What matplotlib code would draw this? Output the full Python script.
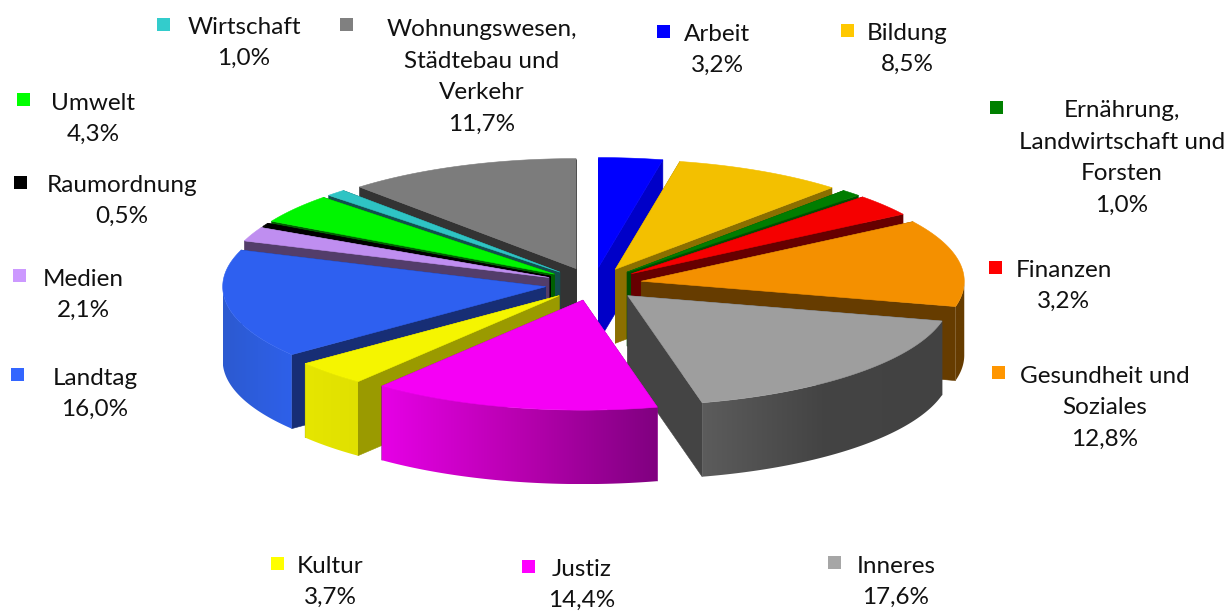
import numpy as np
import matplotlib
matplotlib.use("Agg")
import matplotlib.pyplot as plt
from matplotlib.colors import LinearSegmentedColormap
from matplotlib.patches import Polygon, Rectangle

# ---- data ----
labels = ["Arbeit", "Bildung", "Ernährung,\nLandwirtschaft und\nForsten", "Finanzen",
          "Gesundheit und\nSoziales", "Inneres", "Justiz", "Kultur", "Landtag", "Medien",
          "Raumordnung", "Umwelt", "Wirtschaft", "Wohnungswesen,\nStädtebau und\nVerkehr"]
values = [3.2, 8.5, 1.0, 3.2, 12.8, 17.6, 14.4, 3.7, 16.0, 2.1, 0.5, 4.3, 1.0, 11.7]

# ---- style ----
top_colors = ["#0000FF", "#F3C000", "#007D00", "#F50000", "#F49000", "#9E9E9E", "#F500F5",
              "#F5F500", "#2E60F0", "#BF8EF0", "#000000", "#00F500", "#2EC4C4", "#7C7C7C"]
cut_colors = ["#0000C8", "#8B6F00", "#004F00", "#660000", "#663C00", "#444444", "#900090",
              "#9A9A00", "#172E75", "#533D6A", "#000000", "#006000", "#134F4F", "#333333"]
rim_left = ["#0000C8", "#8B6F00", "#004F00", "#660000", "#663C00", "#5C5C5C", "#E600E6",
            "#E6E600", "#2C5AD0", "#533D6A", "#000000", "#006000", "#134F4F", "#333333"]
rim_mid = ["#0000C8", "#8B6F00", "#004F00", "#660000", "#663C00", "#444444", "#B800B0",
           "#E3E300", "#2D5DDD", "#533D6A", "#000000", "#006000", "#134F4F", "#333333"]
rim_right = ["#0000C8", "#8B6F00", "#004F00", "#660000", "#663C00", "#424242", "#800080",
             "#E0E000", "#2E60EA", "#533D6A", "#000000", "#006000", "#134F4F", "#333333"]
key_colors = ["#0000FF", "#FFC800", "#008000", "#FF0000", "#FF9600", "#A6A6A6", "#FF00FF",
              "#FFFF00", "#3366FF", "#CC99FF", "#000000", "#00FF00", "#33CCCC", "#808080"]
text_pos = [(717, 50), (907, 49), (1122, 158), (1064, 286), (1105, 408), (896, 582), (582, 585),
            (330, 582), (95, 394), (83, 295), (122, 201), (93, 119), (244, 43), (482, 77)]
key_pos = [(663, 31), (847, 30), (996, 107), (995, 267), (998, 372), (834, 562), (528, 566),
           (277, 563), (17, 374), (19, 275), (20, 182), (23, 99), (163, 24), (346, 24)]
CX, CY, RX, RY, DEPTH, EXPLODE = 593.5, 284.0, 323.0, 110.0, 74.0, 0.15
KEY = 13

fig = plt.figure(figsize=(12.29, 6.12), dpi=100, facecolor="white")
ax = fig.add_axes([0, 0, 1, 1])


def rim(a, apex):
    return np.column_stack([apex[0] + RX * np.sin(a), apex[1] - RY * np.cos(a)])


def poly(pts, color, z):
    ax.add_patch(Polygon(pts, closed=True, facecolor=color, edgecolor=color, lw=0.4, zorder=z))


edges = np.radians(np.cumsum([0] + values) / np.sum(values) * 360)
mids = (edges[:-1] + edges[1:]) / 2
order = np.argsort(-np.cos(mids))
# the front-most slices are painted last
for rank, i in enumerate(order):
    z = 10 + rank * 10
    a0, a1, m = edges[i], edges[i + 1], mids[i]
    apex = (CX + EXPLODE * RX * np.sin(m), CY - EXPLODE * RY * np.cos(m))
    arc = rim(np.linspace(a0, a1, 120), apex)
    ap = np.array(apex)
    down = np.array([0, DEPTH])
    # the two cut faces
    for end in (arc[0], arc[-1]):
        poly([ap, end, end + down, ap + down], cut_colors[i], z)
    # outer wall, front half only, shaded left to right
    lo, hi = max(a0, np.pi / 2), min(a1, 3 * np.pi / 2)
    if hi > lo:
        pts = rim(np.linspace(lo, hi, 120), apex)
        outline = np.vstack([pts, pts[::-1] + down])
        xmin, xmax = outline[:, 0].min(), outline[:, 0].max()
        ymin, ymax = outline[:, 1].min(), outline[:, 1].max()
        cmap = LinearSegmentedColormap.from_list(f"w{i}", [rim_left[i], rim_mid[i], rim_right[i]])
        im = ax.imshow(np.linspace(0, 1, 256)[None, :], cmap=cmap, aspect="auto",
                       extent=(xmin, xmax, ymax, ymin), zorder=z + 1, interpolation="bilinear")
        clip = Polygon(outline, closed=True, transform=ax.transData)
        im.set_clip_path(clip)
    # top face
    poly(np.vstack([ap, arc]), top_colors[i], z + 2)

for name, v, (tx, ty), (kx, ky), kc in zip(labels, values, text_pos, key_pos, key_colors):
    ax.add_patch(Rectangle((kx - KEY / 2, ky - KEY / 2), KEY, KEY, facecolor=kc, edgecolor="none", zorder=300))
    txt = name + "\n" + f"{v:.1f}".replace(".", ",") + "%"
    ax.text(tx, ty, txt, ha="center", va="center", family="Lato", fontsize=17.5,
            linespacing=1.62, color="#111111", zorder=300)

ax.set_xlim(0, 1229)
ax.set_ylim(612, 0)
ax.axis("off")
fig.savefig("out.png", dpi=100, facecolor="white")
